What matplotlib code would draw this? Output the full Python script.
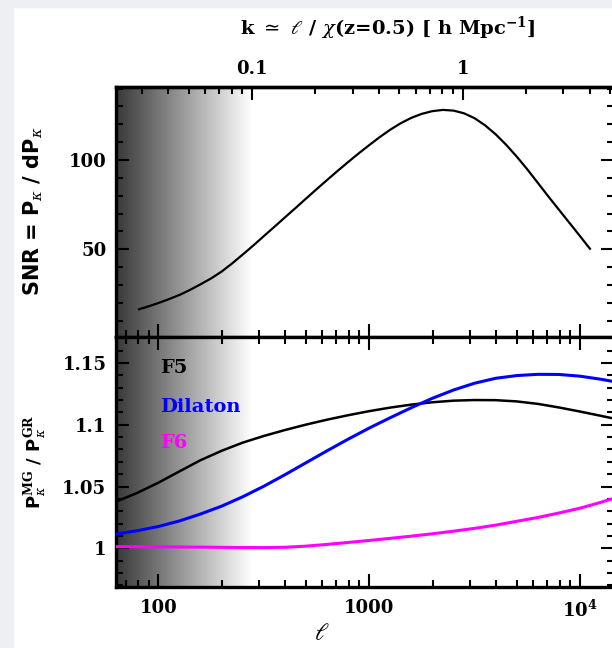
import numpy as np
import matplotlib
matplotlib.use("Agg")
import matplotlib.pyplot as plt
from matplotlib.patches import Rectangle
from matplotlib.ticker import FixedLocator, NullFormatter, FixedFormatter, LogLocator

plt.rcParams['font.family'] = ['DejaVu Serif']
plt.rcParams['mathtext.fontset'] = 'dejavuserif'

# ---- data ----
snr_l = [81, 89, 100, 112, 126, 141, 158, 178, 200, 224, 251, 282, 316, 355, 398, 447, 501, 562, 631, 708,
         794, 891, 1000, 1122, 1259, 1413, 1585, 1778, 1995, 2239, 2512, 2818, 3162, 3548, 3981, 4467, 5012,
         5623, 6310, 7079, 7943, 8913, 10000, 11150]
snr_v = [16.4, 17.9, 19.9, 22.05, 24.45, 27.2, 30.3, 33.7, 37.6, 42.1, 47.0, 52.1, 57.3, 62.55, 67.8, 73.05,
         78.3, 83.55, 88.75, 93.85, 98.8, 103.65, 108.3, 112.8, 116.95, 120.6, 123.6, 125.85, 127.35, 128.05,
         127.65, 126.15, 123.4, 119.4, 114.4, 108.5, 101.9, 94.8, 87.2, 79.6, 72.2, 64.8, 57.4, 50.3]

f5_l = [63, 79, 100, 126, 158, 200, 251, 316, 398, 501, 631, 794, 1000, 1259, 1585, 1995, 2512, 3162, 3981,
        5012, 6310, 7943, 10000, 12589, 14200]
f5_v = [1.0378, 1.0447, 1.0531, 1.0623, 1.0712, 1.0790, 1.0855, 1.0909, 1.0957, 1.1001, 1.1041, 1.1077, 1.1110,
        1.1139, 1.1163, 1.1182, 1.1195, 1.1200, 1.1199, 1.1189, 1.1169, 1.1140, 1.1107, 1.1072, 1.1053]

dil_l = [63, 79, 100, 126, 158, 200, 251, 316, 398, 501, 631, 794, 1000, 1259, 1585, 1995, 2512, 3162, 3981,
         5012, 6310, 7943, 10000, 12589, 14200]
dil_v = [1.0116, 1.0142, 1.0177, 1.0222, 1.0277, 1.0342, 1.0417, 1.0502, 1.0595, 1.0692, 1.0789, 1.0883, 1.0973,
         1.1057, 1.1138, 1.1214, 1.1281, 1.1336, 1.1376, 1.1398, 1.1408, 1.1407, 1.1393, 1.1368, 1.1352]

f6_l = [63, 100, 158, 251, 316, 398, 501, 631, 794, 1000, 1259, 1585, 1995, 2512, 3162, 3981, 5012, 6310, 7943,
        10000, 12589, 14200]
f6_v = [1.0014, 1.0013, 1.0010, 1.0007, 1.0006, 1.0009, 1.0018, 1.0032, 1.0048, 1.0064, 1.0081, 1.0099, 1.0118,
        1.0139, 1.0162, 1.0188, 1.0219, 1.0250, 1.0286, 1.0325, 1.0373, 1.0401]

model_names = ['F5', 'Dilaton', 'F6']
model_colors = ['black', '#0000ff', '#ff00ff']

chi = 2782.0          # l at k = 1
k_cut = 0.1           # shading ends here
top_ticks = [0.1, 1]
top_ticklabels = ['0.1', '1']
bot_ticks = [100, 1000, 10000]
bot_ticklabels = ['100', '1000', r'$\mathbf{10^4}$']

W, H = 612, 648
fig = plt.figure(figsize=(W / 100, H / 100), dpi=100)
fig.patch.set_facecolor('white')
fig.patches.append(Rectangle((0, 0), 13 / W, 1, transform=fig.transFigure, color='#edeff3', zorder=-10))
fig.patches.append(Rectangle((0, 1 - 7 / H), 1, 7 / H, transform=fig.transFigure, color='#edeff3', zorder=-10))

left = 116 / W
right = 614 / W
y_top = 1 - 87.3 / H
y_mid = 1 - 337 / H
y_bot = 1 - 586.7 / H

ax1 = fig.add_axes([left, y_mid, right - left, y_top - y_mid])
ax2 = fig.add_axes([left, y_bot, right - left, y_mid - y_bot])

xmin, xmax = 63.0, 14500.0
ylim1 = (0.9, 140.7)
ylim2 = (0.969, 1.171)

for ax, yl in ((ax1, ylim1), (ax2, ylim2)):
    ax.set_xscale('log')
    ax.set_xlim(xmin, xmax)
    ax.set_ylim(*yl)
    xe = np.logspace(np.log10(xmin), np.log10(k_cut * chi), 200)
    xc = 0.5 * (np.log10(xe[:-1]) + np.log10(xe[1:]))
    frac = (xc - xc[0]) / (np.log10(k_cut * chi) - np.log10(xmin))
    C = (0.22 + 0.78 * frac)[None, :]
    ax.pcolormesh(xe, list(yl), C, cmap='gray', vmin=0, vmax=1, shading='flat', zorder=0, rasterized=True)
    for s in ax.spines.values():
        s.set_linewidth(2.4)
    ax.tick_params(which='major', direction='in', length=9.5, width=1.5, top=True, right=True, labelsize=13, pad=7)
    ax.tick_params(which='minor', direction='in', length=5, width=1.5, top=True, right=True)
    ax.xaxis.set_major_locator(FixedLocator(bot_ticks))
    ax.xaxis.set_minor_locator(LogLocator(base=10, subs=np.arange(2, 10)))

ax1.tick_params(axis='x', which='both', top=False, labelbottom=False)
ax1.xaxis.set_minor_formatter(NullFormatter())
ax1.set_yticks([50, 100])
ax1.set_yticklabels(['50', '100'], fontweight='bold')
ax1.yaxis.set_minor_locator(FixedLocator(np.arange(10, 141, 10)))
ax1.plot(snr_l, snr_v, color='black', lw=1.6, zorder=3)

sec = ax1.secondary_xaxis('top', functions=(lambda l: l / chi, lambda k: k * chi))
sec.set_xscale('log')
sec.xaxis.set_major_locator(FixedLocator(top_ticks))
sec.xaxis.set_major_formatter(FixedFormatter(top_ticklabels))
sec.xaxis.set_minor_locator(LogLocator(base=10, subs=np.arange(2, 10)))
sec.xaxis.set_minor_formatter(NullFormatter())
sec.tick_params(which='major', direction='in', length=9.5, width=1.5, labelsize=13, pad=7)
sec.tick_params(which='minor', direction='in', length=5, width=1.5)
sec.spines['top'].set_linewidth(2.4)
for t in sec.get_xticklabels():
    t.set_fontweight('bold')

ax2.xaxis.set_major_formatter(FixedFormatter(bot_ticklabels))
ax2.xaxis.set_minor_formatter(NullFormatter())
ax2.set_yticks([1.0, 1.05, 1.1, 1.15])
ax2.set_yticklabels(['1', '1.05', '1.1', '1.15'], fontweight='bold')
ax2.yaxis.set_minor_locator(FixedLocator(np.arange(0.97, 1.171, 0.01)))
ax2.plot(f5_l, f5_v, color=model_colors[0], lw=1.8, zorder=3)
ax2.plot(dil_l, dil_v, color=model_colors[1], lw=2.2, zorder=3)
ax2.plot(f6_l, f6_v, color=model_colors[2], lw=2.2, zorder=3)
ax2.tick_params(axis='x', which='major', pad=9)
for t in ax2.get_xticklabels():
    t.set_fontweight('bold')

for name, col, yy in zip(model_names, model_colors, [368, 407, 443]):
    fig.text(160 / W, 1 - yy / H, name, color=col, fontsize=14, fontweight='bold', va='center', ha='left')

fig.text(388 / W, 1 - 28 / H, r'k $\simeq$ $\ell$ / $\chi$(z=0.5) [ h Mpc$^{\mathbf{-1}}$]', fontsize=14,
         fontweight='bold', ha='center', va='center')
fig.text(322 / W, 1 - 633 / H, r'$\ell$', fontsize=17, ha='center', va='center')
fig.text(33 / W, 1 - 211 / H, r'SNR = P$_\kappa$ / dP$_\kappa$', family='DejaVu Sans', fontweight='bold',
         fontsize=15, rotation=90, ha='center', va='center')
fig.text(35 / W, 1 - 462 / H, r'P$^{\mathbf{MG}}_\kappa$ / P$^{\mathbf{GR}}_\kappa$', family='DejaVu Sans',
         fontweight='bold', fontsize=13, rotation=90, ha='center', va='center')

fig.savefig('out.png', dpi=100)
